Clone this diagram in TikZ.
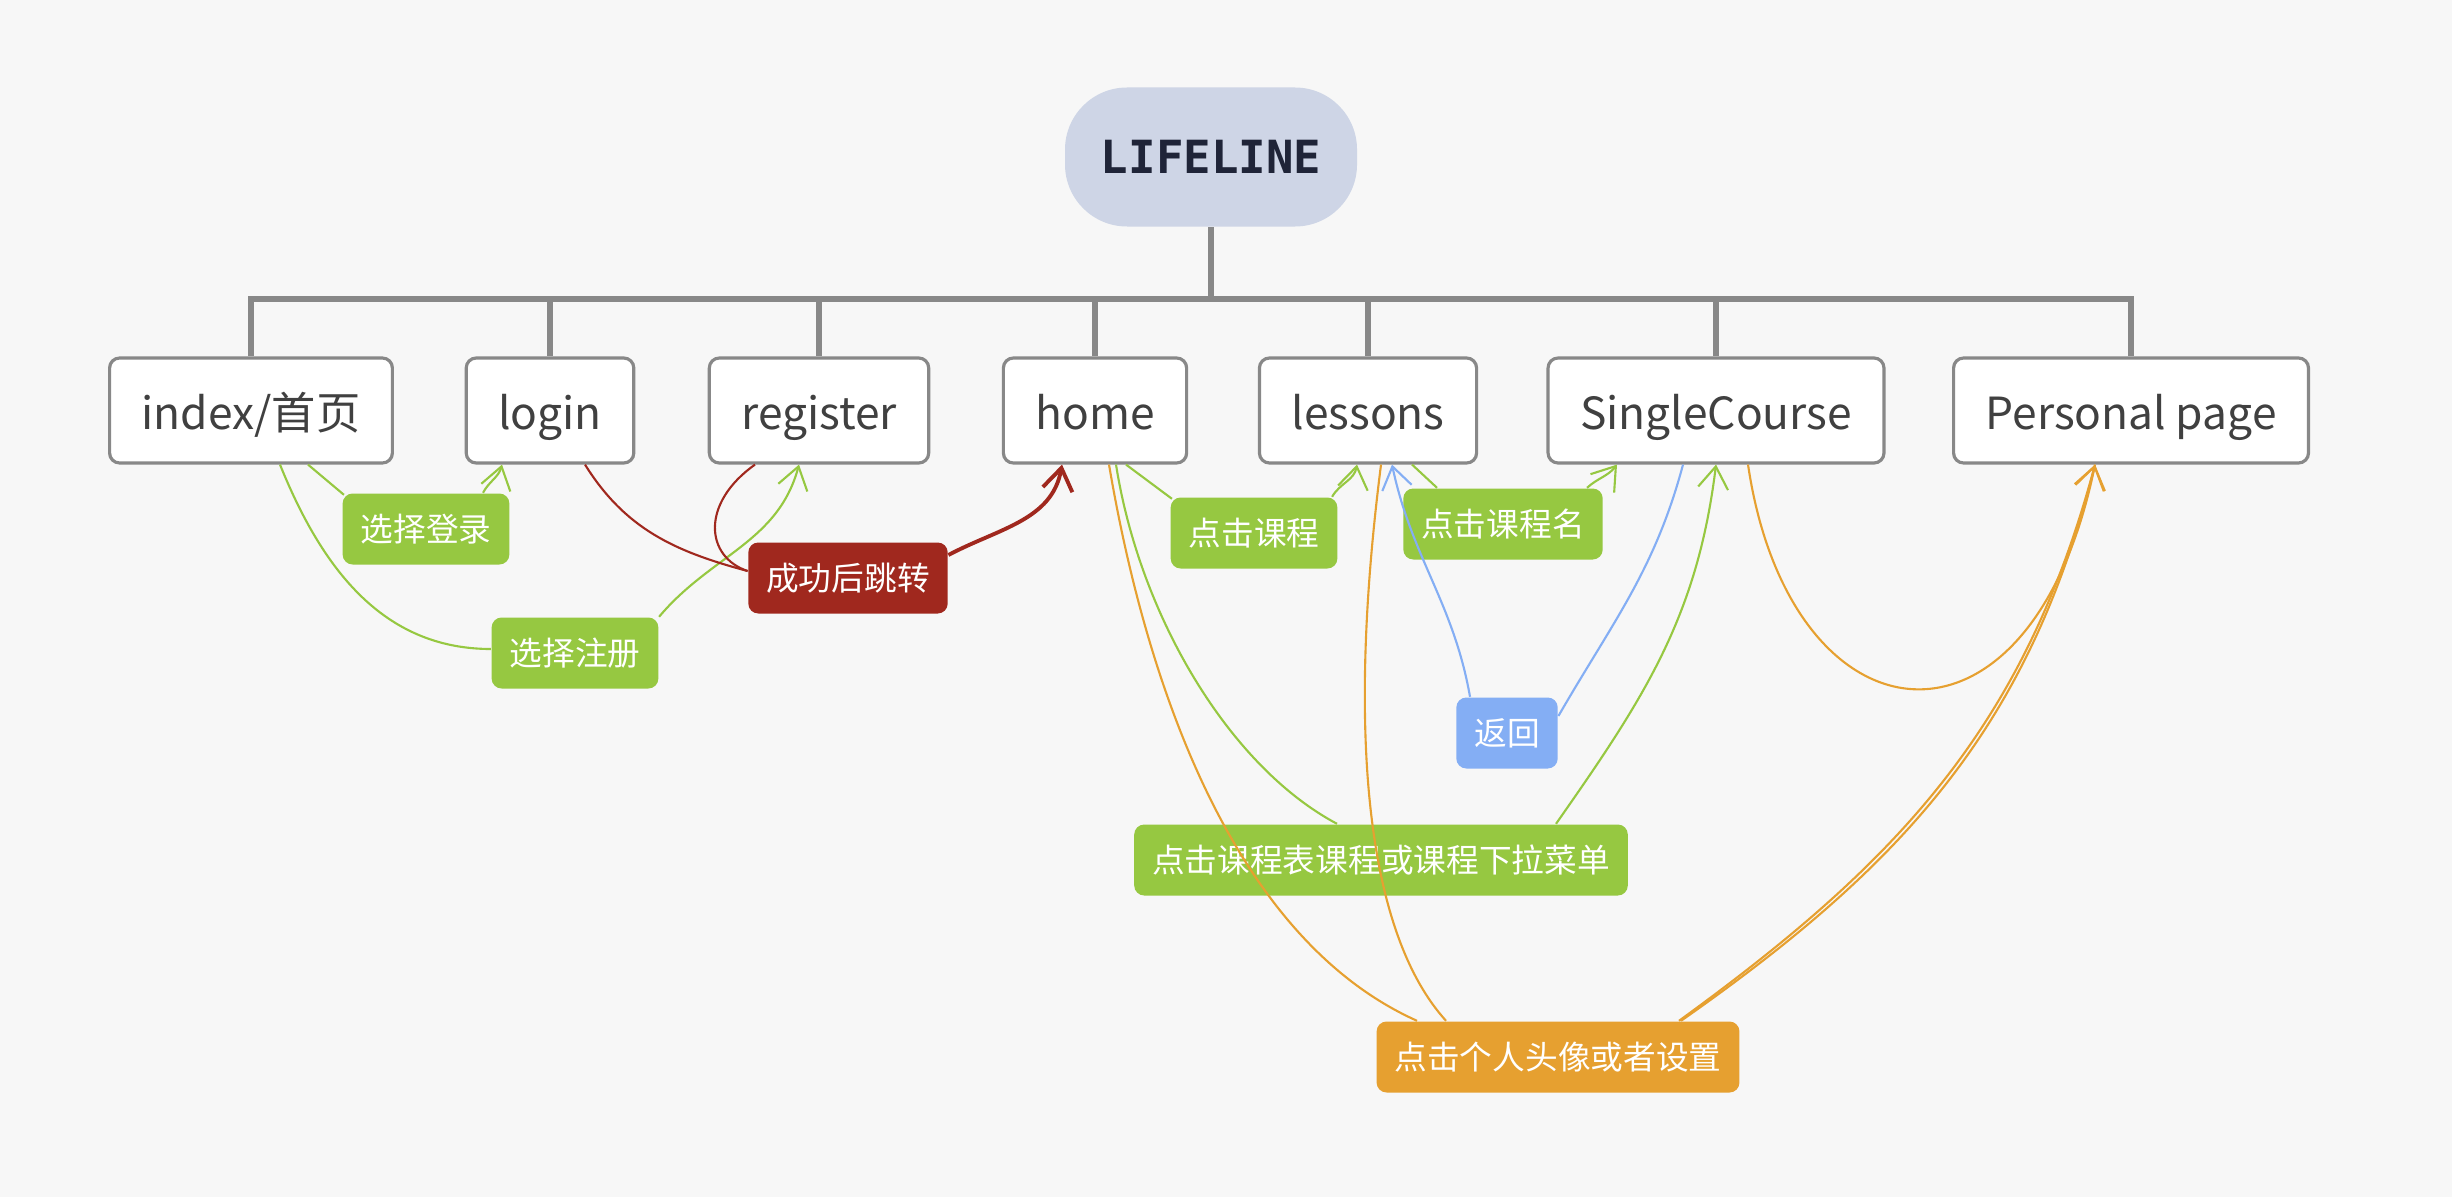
\documentclass[tikz,border=0pt]{standalone}
\usepackage{fontspec}
\setmainfont{Noto Sans CJK SC}
\setmonofont{DejaVu Sans Mono}
\usetikzlibrary{arrows.meta}
\definecolor{bgcol}{HTML}{F7F7F7}
\definecolor{rootcol}{HTML}{CED5E6}
\definecolor{rootink}{HTML}{1F2438}
\definecolor{boxline}{HTML}{888888}
\definecolor{boxink}{HTML}{404040}
\definecolor{tgreen}{HTML}{96C841}
\definecolor{tred}{HTML}{A0281E}
\definecolor{tblue}{HTML}{84AEF4}
\definecolor{torange}{HTML}{E6A030}
\tikzset{
  rootbox/.style={fill=rootcol,rounded corners=0.62cm,minimum width=2.92cm,minimum height=1.39cm,
    text=rootink,font=\ttfamily\bfseries\fontsize{13}{15}\selectfont},
  pagebox/.style={draw=boxline,line width=0.9pt,fill=white,rounded corners=0.1cm,minimum height=1.05cm,
    inner xsep=0.32cm,text height=11.5pt,text depth=0.5pt,text=boxink,font=\fontsize{12.6}{15}\selectfont},
  treeline/.style={draw=boxline,line width=1.6pt},
  tagbox/.style={fill=#1,rounded corners=0.1cm,minimum height=0.71cm,inner xsep=0.18cm,inner ysep=0pt,
    text=white,font=\fontsize{9.3}{11}\selectfont},
  flow/.style={draw=#1,line width=0.6pt},
  arrowend/.style={-{Straight Barb[length=2.2mm,width=3mm]}},
}
\begin{document}
\begin{tikzpicture}
\fill[bgcol] (0,0) rectangle (24.52,11.97);
\useasboundingbox (0,0) rectangle (24.52,11.97);

\node[rootbox] (root) at (12.11,10.40) {LIFELINE};

\node[pagebox] (index) at (2.51,7.865) {index/首页};
\node[pagebox] (login) at (5.50,7.865) {login};
\node[pagebox] (register) at (8.19,7.865) {register};
\node[pagebox] (home) at (10.95,7.865) {home};
\node[pagebox] (lessons) at (13.68,7.865) {lessons};
\node[pagebox] (single) at (17.16,7.865) {SingleCourse};
\node[pagebox] (personal) at (21.31,7.865) {Personal page};

\foreach \p in {index,login,register,home,lessons,single,personal}
  \draw[treeline] (root.south) -- ++(0,-0.72) -| (\p.north);

\node[tagbox=tgreen] (sellogin) at (4.26,6.68) {选择登录};
\node[tagbox=tgreen] (selreg) at (5.75,5.44) {选择注册};
\node[tagbox=tred] (jump) at (8.48,6.19) {成功后跳转};
\node[tagbox=tgreen] (clickcourse) at (12.54,6.64) {点击课程};
\node[tagbox=tgreen] (clickname) at (15.03,6.73) {点击课程名};
\node[tagbox=tblue] (back) at (15.07,4.64) {返回};
\node[tagbox=tgreen] (clickmenu) at (13.81,3.37) {点击课程表课程或课程下拉菜单};
\node[tagbox=torange] (clickavatar) at (15.58,1.40) {点击个人头像或者设置};

% index -> login / register
\draw[flow=tgreen] ([xshift=0.57cm]index.south) -- ([xshift=0.02cm,yshift=-0.02cm]sellogin.north west);
\draw[flow=tgreen,arrowend] ([xshift=0.57cm]sellogin.north) to[out=62,in=-105] ([xshift=-0.48cm]login.south);
\draw[flow=tgreen] ([xshift=0.29cm]index.south) to[out=-68,in=180] ([yshift=0.04cm]selreg.west);
\draw[flow=tgreen,arrowend] (selreg.north east) to[out=50,in=-105] ([xshift=-0.20cm]register.south);

% login / register -> home
\draw[flow=tred] ([xshift=0.35cm]login.south) to[out=-58,in=165] ([yshift=0.07cm]jump.west);
\draw[flow=tred] ([xshift=-0.64cm]register.south) .. controls +(-0.55,-0.39) and +(-0.42,0.14) .. ([yshift=0.07cm]jump.west);
\draw[flow=tred,line width=1.1pt,arrowend] ([yshift=0.23cm]jump.east) to[out=28,in=-100] ([xshift=-0.33cm]home.south);

% home -> lessons -> SingleCourse
\draw[flow=tgreen] ([xshift=0.31cm]home.south) -- ([xshift=0.02cm,yshift=-0.02cm]clickcourse.north west);
\draw[flow=tgreen,arrowend] ([xshift=-0.06cm]clickcourse.north east) to[out=60,in=-100] ([xshift=-0.11cm]lessons.south);
\draw[flow=tgreen] ([xshift=0.44cm]lessons.south) -- ([xshift=-0.66cm]clickname.north);
\draw[flow=tgreen,arrowend] ([xshift=0.84cm]clickname.north) to[out=42,in=-128] ([xshift=-0.99cm]single.south);
\draw[flow=tblue] ([xshift=-0.33cm]single.south) to[out=-105,in=60] ([yshift=0.17cm]back.east);
\draw[flow=tblue,arrowend] ([xshift=-0.37cm]back.north) to[out=100,in=-78] ([xshift=0.24cm]lessons.south);
\draw[flow=tgreen] ([xshift=0.21cm]home.south) .. controls (11.4,5.8) and (12.3,4.3) .. ([xshift=-0.44cm]clickmenu.north);
\draw[flow=tgreen,arrowend] ([xshift=1.75cm]clickmenu.north) to[out=55,in=-97] (single.south);

% -> Personal page
\draw[flow=torange] ([xshift=0.14cm]home.south) .. controls (11.45,5.2) and (12.3,2.6) .. ([xshift=-1.41cm]clickavatar.north);
\draw[flow=torange] ([xshift=0.13cm]lessons.south) .. controls (13.45,4.5) and (13.7,2.6) .. ([xshift=-1.12cm]clickavatar.north);
\draw[flow=torange,arrowend] ([xshift=1.23cm]clickavatar.north) to[out=35,in=-104] ([xshift=-0.36cm]personal.south);
\draw[flow=torange] ([xshift=1.21cm]clickavatar.north) to[out=36,in=-105] ([xshift=-0.36cm]personal.south);
\draw[flow=torange,arrowend] ([xshift=0.32cm]single.south) .. controls +(0.42,-2.84) and +(-0.65,-3.14) .. ([xshift=-0.36cm]personal.south);
\end{tikzpicture}
\end{document}
